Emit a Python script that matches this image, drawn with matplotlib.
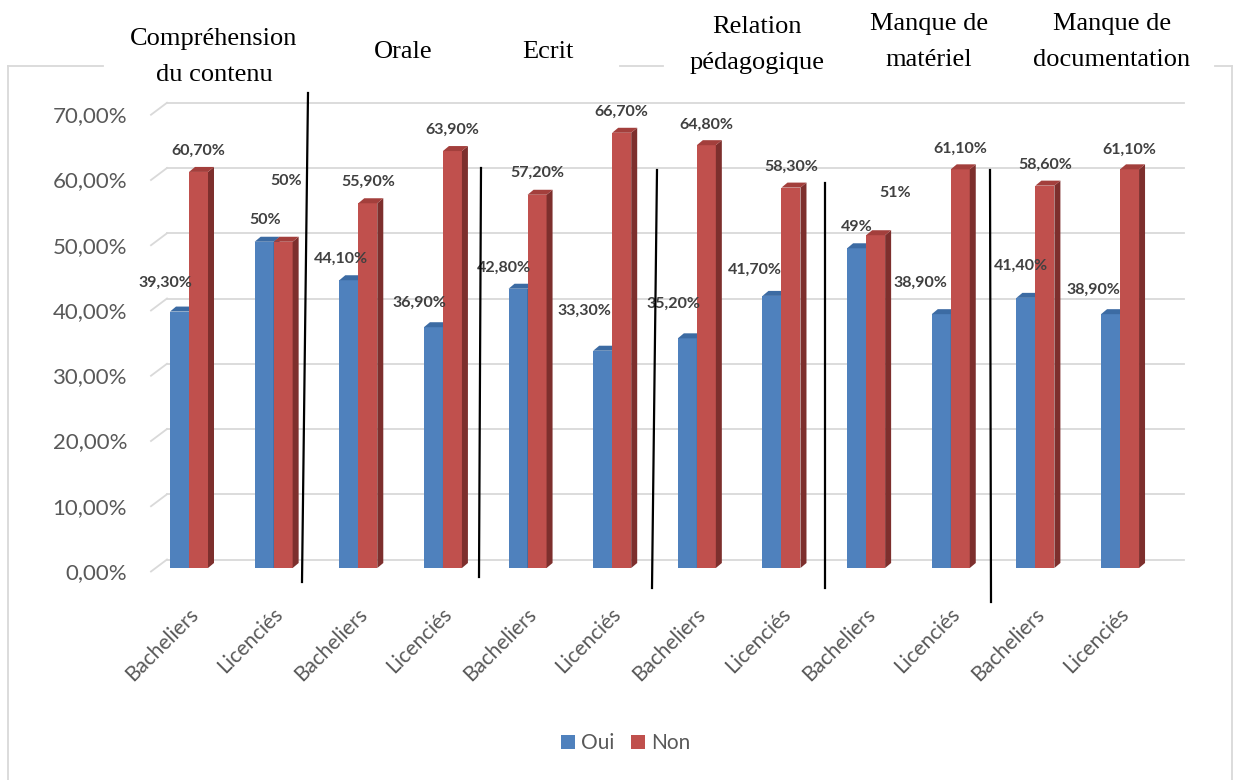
import matplotlib
matplotlib.use("Agg")
import matplotlib.pyplot as plt
from matplotlib.patches import Polygon, Patch
from matplotlib.lines import Line2D

# ---- data -------------------------------------------------------------
categories = ["Bacheliers", "Licenciés"] * 6
oui = [0.393, 0.50, 0.441, 0.369, 0.428, 0.333, 0.352, 0.417, 0.49, 0.389, 0.414, 0.389]
non = [0.607, 0.50, 0.559, 0.639, 0.572, 0.667, 0.648, 0.583, 0.51, 0.611, 0.586, 0.611]
series_names = ["Oui", "Non"]
yticks = [0.0, 0.1, 0.2, 0.3, 0.4, 0.5, 0.6, 0.7]
themes = ["Compréhension\ndu contenu", "Orale", "Ecrit",
          "Relation\npédagogique", "Manque de\nmatériel", "Manque de\ndocumentation"]

# ---- styling ----------------------------------------------------------
W, H = 1235, 780
BLUE, BLUE_TOP, BLUE_SIDE = "#4F81BD", "#3C6BA3", "#2F5686"
RED, RED_TOP, RED_SIDE = "#C0504D", "#A33F3C", "#7D2F2D"
GRID = "#D9D9D9"
TXT = "#595959"
LBL = "#404040"
SANS = ["Lato", "DejaVu Sans"]
SERIF = ["Liberation Serif", "DejaVu Serif"]

# manual label offsets (pixels) from each bar's top centre
oui_off = [(-14, 29), (1, 22), (-8, 21), (-14, 24), (-14, 21), (-18, 40),
           (-14, 35), (-17, 26), (0, 21), (-21, 31), (-5, 32), (-17, 24)]
non_off = [(0, 21), (3, 61), (1, 21), (0, 21), (0, 22), (0, 21),
           (0, 20), (0, 21), (20, 42), (0, 21), (0, 21), (0, 20)]


def fx(x):
    return x / W


def fy(y):
    return 1 - y / H


def axis_label(v):
    return f"{v * 100:.2f}".replace(".", ",") + "%"


def bar_label(v):
    p = round(v * 100, 2)
    if abs(p - round(p)) < 1e-9:
        return f"{int(round(p))}%"
    return f"{p:.2f}".replace(".", ",") + "%"


fig = plt.figure(figsize=(W / 100, H / 100), dpi=100)
fig.patch.set_facecolor("white")

# outer chart frame
frame_kw = dict(color=GRID, lw=1.3, transform=fig.transFigure)
fig.add_artist(Line2D([fx(8), fx(8)], [fy(66), fy(782)], **frame_kw))
fig.add_artist(Line2D([fx(1232), fx(1232)], [fy(66), fy(782)], **frame_kw))
for a, b in [(8, 103), (620, 663), (1215, 1232)]:
    fig.add_artist(Line2D([fx(a), fx(b)], [fy(66), fy(66)], **frame_kw))

# plot area: category i sits at x = i, 84.64 px apart, first centre at 189 px
x0_px, step = 189.0, 84.64
ymin_px, px_per_unit = 568.0, 652.5
ax = fig.add_axes([fx(x0_px - step / 2), fy(ymin_px),
                   12 * step / W, 0.70 * px_per_unit / H])
ax.set_xlim(-0.5, 11.5)
ax.set_ylim(0, 0.70)
ax.axis("off")

bw = 19 / step            # bar width
ddx = 6 / step            # depth offset in x
ddy = 5 / px_per_unit     # depth offset in y
gshift = 8.5 / px_per_unit

# back-wall gridlines with the floor diagonals at the left
gx_left, gx_right = (167 - x0_px) / step, (1184 - x0_px) / step
dx_left = (151 - x0_px) / step
for t in yticks:
    g = t + gshift
    ax.add_line(Line2D([gx_left, gx_right], [g, g], color=GRID, lw=1.3,
                       clip_on=False, zorder=0))
    ax.add_line(Line2D([dx_left, gx_left], [g - 12 / px_per_unit, g], color=GRID,
                       lw=1.3, clip_on=False, zorder=0))
    ax.annotate(axis_label(t), xy=(dx_left, t), xycoords="data",
                xytext=(-24, -5), textcoords="offset pixels",
                ha="right", va="center", fontsize=16, color=TXT,
                family=SANS, annotation_clip=False)

xs = list(range(len(categories)))


def draw_3d(x_left, vals, face, top, side, z):
    bars = ax.bar([x + bw / 2 for x in x_left], vals, width=bw, color=face,
                  zorder=z, linewidth=0)
    for x, v in zip(x_left, vals):
        x1 = x + bw
        ax.add_patch(Polygon([(x1, 0), (x1, v), (x1 + ddx, v + ddy), (x1 + ddx, ddy)],
                             closed=True, facecolor=side, lw=0, zorder=z))
        ax.add_patch(Polygon([(x, v), (x1, v), (x1 + ddx, v + ddy), (x + ddx, v + ddy)],
                             closed=True, facecolor=top, lw=0, zorder=z))
    return bars


draw_3d([x - bw for x in xs], oui, BLUE, BLUE_TOP, BLUE_SIDE, 2)
draw_3d(list(xs), non, RED, RED_TOP, RED_SIDE, 3)

# value labels
for i in xs:
    ax.annotate(bar_label(oui[i]), xy=(i - bw / 2, oui[i]), xycoords="data",
                xytext=oui_off[i], textcoords="offset pixels", ha="center",
                va="center", fontsize=11.5, fontweight="bold", color=LBL,
                family=SANS, zorder=5)
    ax.annotate(bar_label(non[i]), xy=(i + bw / 2, non[i]), xycoords="data",
                xytext=non_off[i], textcoords="offset pixels", ha="center",
                va="center", fontsize=11.5, fontweight="bold", color=LBL,
                family=SANS, zorder=5)

# rotated category labels
for i, name in zip(xs, categories):
    ax.annotate(name, xy=(i, 0), xycoords="data", xytext=(6, -43),
                textcoords="offset pixels", rotation=45, rotation_mode="anchor",
                ha="right", va="center", fontsize=15, color=TXT, family=SANS,
                annotation_clip=False)

# theme headers and separators
header_pos = [(214, 57), (403, 52), (548, 52), (757, 45), (929, 42), (1112, 42)]
for text, (hx, hy) in zip(themes, header_pos):
    fig.text(fx(hx), fy(hy), text, ha="center", va="center", fontsize=19,
             family=SERIF, color="black", linespacing=1.85)

separators = [((308, 93), (302, 582)), ((481, 168), (479, 577)),
              ((657, 170), (652, 588)), ((825, 183), (825, 588)),
              ((990, 170), (991, 602))]
for (xa, ya), (xb, yb) in separators:
    fig.add_artist(Line2D([fx(xa), fx(xb)], [fy(ya), fy(yb)], color="black",
                          lw=1.6, transform=fig.transFigure, zorder=10))

# legend
handles = [Patch(facecolor=BLUE, edgecolor="none"), Patch(facecolor=RED, edgecolor="none")]
fig.legend(handles, series_names, loc="center", bbox_to_anchor=(fx(626), fy(743)),
           ncol=2, frameon=False, prop={"family": SANS, "size": 15},
           labelcolor=TXT, handlelength=0.67, handleheight=0.67,
           handletextpad=0.3, columnspacing=0.8, borderpad=0, borderaxespad=0)

fig.savefig("out.png", dpi=100, facecolor="white")
